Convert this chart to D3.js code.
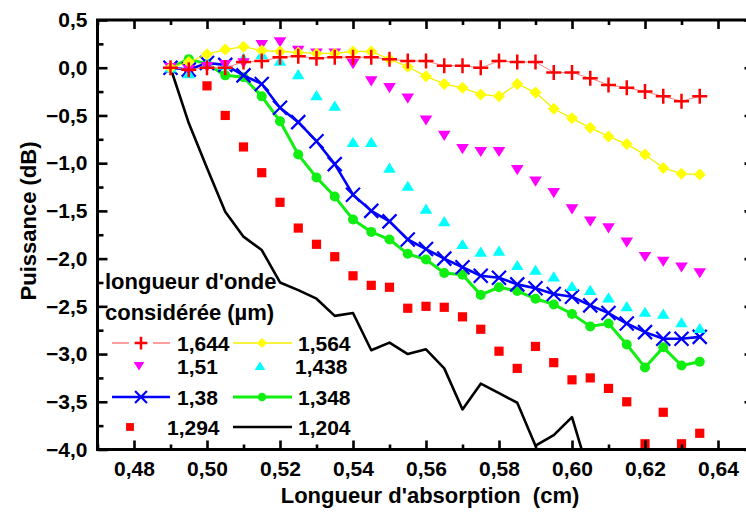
<!DOCTYPE html>
<html><head><meta charset="utf-8">
<script src="https://cdn.jsdelivr.net/npm/d3@7"></script>
<style>
html,body{margin:0;padding:0;background:#fff;}
svg{display:block;font-family:"Liberation Sans",Arial,sans-serif;font-weight:bold;}
</style></head><body>
<svg id="c" width="746" height="518"></svg>
<script>
// ---- data ----
const absorption = [0.490,0.495,0.500,0.505,0.510,0.515,0.520,0.525,0.530,0.535,0.540,0.545,0.550,0.555,0.560,0.565,0.570,0.575,0.580,0.585,0.590,0.595,0.600,0.605,0.610,0.615,0.620,0.625,0.630,0.635];
const p1644 = [0,-0.02,0,0,0.06,0.07,0.11,0.12,0.10,0.11,0.11,0.11,0.09,0.07,0.07,0.02,0.02,0,0.07,0.06,0.06,-0.05,-0.05,-0.11,-0.18,-0.21,-0.25,-0.30,-0.35,-0.30];
const p1564 = [0,0.06,0.14,0.19,0.22,0.18,0.17,0.16,0.15,0.15,0.17,0.17,0.09,0.01,-0.09,-0.17,-0.21,-0.28,-0.30,-0.17,-0.26,-0.43,-0.53,-0.63,-0.72,-0.80,-0.91,-1.05,-1.11,-1.12];
const p151  = [0,-0.02,0.01,0.03,0.05,0.24,0.27,0.18,0.15,0.15,0.04,-0.14,-0.21,-0.32,-0.55,-0.71,-0.85,-0.88,-0.88,-1.07,-1.19,-1.31,-1.48,-1.61,-1.68,-1.83,-1.98,-2.03,-2.09,-2.15];
const p1438 = [0,-0.06,0.05,0.03,0.10,0.14,0.07,-0.07,-0.29,-0.40,-0.78,-0.78,-1.05,-1.24,-1.48,-1.61,-1.85,-1.93,-1.92,-2.07,-2.12,-2.19,-2.29,-2.33,-2.41,-2.50,-2.56,-2.58,-2.67,-2.73];
const p138  = [0,-0.02,0.05,0.03,-0.08,-0.17,-0.42,-0.57,-0.77,-1.01,-1.33,-1.50,-1.61,-1.80,-1.90,-2.00,-2.09,-2.18,-2.20,-2.27,-2.31,-2.37,-2.40,-2.49,-2.57,-2.68,-2.77,-2.84,-2.84,-2.82];
const p1348 = [0,0.09,0.04,-0.08,-0.10,-0.30,-0.56,-0.91,-1.15,-1.35,-1.59,-1.72,-1.80,-1.95,-2.01,-2.15,-2.17,-2.38,-2.30,-2.34,-2.42,-2.48,-2.58,-2.71,-2.68,-2.90,-3.14,-2.93,-3.12,-3.08];
const p1294 = [0,-0.02,-0.19,-0.50,-0.83,-1.10,-1.41,-1.68,-1.85,-1.98,-2.18,-2.28,-2.30,-2.52,-2.50,-2.51,-2.61,-2.74,-2.97,-3.15,-2.92,-3.09,-3.27,-3.25,-3.36,-3.50,-3.94,-3.61,-3.94,-3.83];
const p1204 = [0,-0.58,-1.05,-1.51,-1.77,-1.91,-2.25,-2.33,-2.42,-2.60,-2.57,-2.96,-2.88,-3.00,-2.95,-3.15,-3.58,-3.31,-3.41,-3.51,-3.96,-3.85,-3.66,-4.30];
const wavelengths = ["1,644","1,564","1,51","1,438","1,38","1,348","1,294","1,204"];
const xTicks = [0.48,0.50,0.52,0.54,0.56,0.58,0.60,0.62,0.64];
const yTicks = [0.5,0,-0.5,-1,-1.5,-2,-2.5,-3,-3.5,-4];
const xTitle = "Longueur d'absorption  (cm)";
const yTitle = "Puissance (dB)";
const legendTitle = ["longueur d'onde","considérée (µm)"];

// ---- chart ----
const svg = d3.select("#c");
const L = 97.5, R = 754.5, T = 20, B = 449.5;
const x = d3.scaleLinear().domain([0.47,0.65]).range([L,R]);
const y = d3.scaleLinear().domain([-4,0.5]).range([B,T]);
const fmt = v => d3.format(".2f")(v).replace(".",",");
const fmtY = v => d3.format(".1f")(v).replace(".",",");

svg.append("defs").append("clipPath").attr("id","clip")
  .append("rect").attr("x",L).attr("y",T).attr("width",R-L).attr("height",B-T);

const series = [
  {name:wavelengths[0], v:p1644, color:"#ff0000", marker:"plus", line:{color:"#ff8080", w:1}},
  {name:wavelengths[1], v:p1564, color:"#ffff00", marker:"diamond", line:{color:"#f4f000", w:1.3}},
  {name:wavelengths[2], v:p151, color:"#ff00ff", marker:"tridown", line:null},
  {name:wavelengths[3], v:p1438, color:"#00ffff", marker:"triup", line:null},
  {name:wavelengths[4], v:p138, color:"#0000ff", marker:"x", line:{color:"#0000ff", w:2.6}},
  {name:wavelengths[5], v:p1348, color:"#11ee11", marker:"circle", line:{color:"#11ee11", w:3}},
  {name:wavelengths[6], v:p1294, color:"#ff0000", marker:"square", line:null},
  {name:wavelengths[7], v:p1204, color:"#000000", marker:null, line:{color:"#000000", w:2.6}}
];

function drawMarker(g, type, cx, cy, color, s) {
  if (type === "plus") {
    g.append("path").attr("d",`M${cx-7.5*s},${cy}H${cx+7.5*s}M${cx},${cy-7.5*s}V${cy+7.5*s}`)
      .attr("stroke",color).attr("stroke-width",2.5).attr("fill","none");
  } else if (type === "x") {
    g.append("path").attr("d",`M${cx-7*s},${cy-7*s}L${cx+7*s},${cy+7*s}M${cx-7*s},${cy+7*s}L${cx+7*s},${cy-7*s}`)
      .attr("stroke",color).attr("stroke-width",2.2).attr("fill","none");
  } else if (type === "diamond") {
    g.append("path").attr("d",`M${cx},${cy-6*s}L${cx+6*s},${cy}L${cx},${cy+6*s}L${cx-6*s},${cy}Z`).attr("fill",color);
  } else if (type === "tridown") {
    g.append("path").attr("d",`M${cx-6.3*s},${cy-4.8*s}L${cx+6.3*s},${cy-4.8*s}L${cx},${cy+5.4*s}Z`).attr("fill",color);
  } else if (type === "triup") {
    g.append("path").attr("d",`M${cx-6.3*s},${cy+4.8*s}L${cx+6.3*s},${cy+4.8*s}L${cx},${cy-5.4*s}Z`).attr("fill",color);
  } else if (type === "circle") {
    g.append("circle").attr("cx",cx).attr("cy",cy).attr("r",5*s).attr("fill",color);
  } else if (type === "square") {
    g.append("rect").attr("x",cx-4.6*s).attr("y",cy-4.6*s).attr("width",9.2*s).attr("height",9.2*s).attr("fill",color);
  }
}

const plot = svg.append("g").attr("clip-path","url(#clip)");
series.slice().reverse().forEach(s => {
  const pts = s.v.map((v,i) => [absorption[i], v]);
  const g = plot.append("g");
  if (s.line) {
    g.append("path").datum(pts)
      .attr("d", d3.line().x(d=>x(d[0])).y(d=>y(d[1])))
      .attr("fill","none").attr("stroke",s.line.color).attr("stroke-width",s.line.w)
      .attr("stroke-linejoin","round");
  }
  if (s.marker) pts.forEach(d => drawMarker(g, s.marker, x(d[0]), y(d[1]), s.color, 1));
});

// ---- axes ----
const minorX = d3.range(0.47,0.655,0.01).map(v=>+v.toFixed(2)).filter(v=>!xTicks.some(t=>Math.abs(t-v)<1e-6));
const minorY = d3.range(-3.75,0.5,0.5).map(v=>+v.toFixed(2));
function styleAxis(g){ g.select(".domain").remove(); g.selectAll("line").attr("stroke","#000").attr("stroke-width",2.6); }
function styleText(sel){ sel.attr("font-size",21).attr("font-weight","bold").attr("fill","#000").attr("font-family","Liberation Sans, Arial, sans-serif"); }

svg.append("g").attr("transform",`translate(0,${B})`)
  .call(d3.axisBottom(x).tickValues(xTicks).tickSize(-9).tickPadding(12).tickFormat(fmt))
  .call(styleAxis).selectAll("text").call(styleText);
svg.append("g").attr("transform",`translate(0,${B})`)
  .call(d3.axisBottom(x).tickValues(minorX).tickSize(-5).tickFormat(""))
  .call(styleAxis);
svg.append("g").attr("transform",`translate(0,${T})`)
  .call(d3.axisTop(x).tickValues(xTicks).tickSize(-9).tickFormat(""))
  .call(styleAxis);
svg.append("g").attr("transform",`translate(0,${T})`)
  .call(d3.axisTop(x).tickValues(minorX).tickSize(-5).tickFormat(""))
  .call(styleAxis);
svg.append("g").attr("transform",`translate(${L},0)`)
  .call(d3.axisLeft(y).tickValues(yTicks).tickSize(-10).tickPadding(10).tickFormat(fmtY))
  .call(styleAxis).selectAll("text").call(styleText);
svg.append("g").attr("transform",`translate(${L},0)`)
  .call(d3.axisLeft(y).tickValues(minorY).tickSize(-6).tickFormat(""))
  .call(styleAxis);
svg.append("g").attr("transform",`translate(${R},0)`)
  .call(d3.axisRight(y).tickValues(yTicks).tickSize(-10).tickFormat(""))
  .call(styleAxis);
svg.append("g").attr("transform",`translate(${R},0)`)
  .call(d3.axisRight(y).tickValues(minorY).tickSize(-6).tickFormat(""))
  .call(styleAxis);
svg.append("path").attr("d",`M${L},${T}H${R}V${B}H${L}Z`).attr("fill","none").attr("stroke","#000").attr("stroke-width",3);

// titles
svg.append("text").attr("x",430).attr("y",503).attr("text-anchor","middle").attr("font-size",22)
  .style("white-space","pre").text(xTitle);
svg.append("text").attr("transform","translate(36,221) rotate(-90)").attr("text-anchor","middle").attr("font-size",22).text(yTitle);

// ---- legend ----
const lg = svg.append("g");
lg.append("text").attr("x",105).attr("y",289).attr("font-size",22).text(legendTitle[0]);
lg.append("text").attr("x",105).attr("y",320).attr("font-size",22).text(legendTitle[1]);
const rowY = [343, 366, 397, 427];
const colX = [{sx:112, ex:170, mx:141, tx:177},{sx:233, ex:292, mx:262, tx:298}];
series.forEach((s,i) => {
  const r = Math.floor(i/2), c = i%2;
  const cy = rowY[r], col = colX[c];
  if (s.line) {
    if (s.marker === "plus") {
      lg.append("path").attr("d",`M${col.sx},${cy}H${col.mx-12}M${col.mx+12},${cy}H${col.ex}`)
        .attr("stroke",s.line.color).attr("stroke-width",1.5);
    } else {
      lg.append("line").attr("x1",col.sx).attr("x2",col.ex).attr("y1",cy).attr("y2",cy)
        .attr("stroke",s.line.color).attr("stroke-width",s.line.w);
    }
  }
  let mx = col.mx;
  if (s.marker === "square") mx = 130;
  if (s.marker === "tridown") mx = 139;
  if (s.marker === "triup") mx = 260;
  if (s.marker) drawMarker(lg, s.marker, mx, cy, s.color, 0.85);
  let tx = col.tx;
  if (s.name === "1,294") tx = 167;
  if (s.name === "1,438") tx = 295;
  lg.append("text").attr("x",tx).attr("y",cy).attr("dy","0.36em").attr("font-size",21).text(s.name);
});
</script>
</body></html>
